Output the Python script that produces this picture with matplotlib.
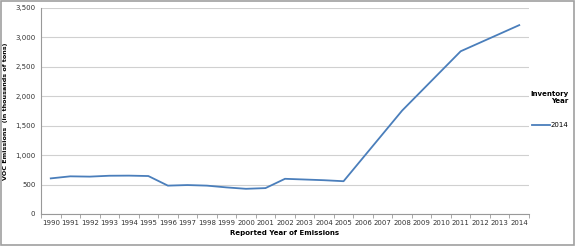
import numpy as np
import matplotlib.pyplot as plt

years = [str(y) for y in range(1990, 2015)]
voc_2014 = [605, 640, 635, 650, 652, 645, 482, 492, 482, 452, 428, 440,
            598, 586, 574, 557, 957, 1357, 1757, 2093, 2429, 2765, 2913, 3061, 3209]
yticks = [0, 500, 1000, 1500, 2000, 2500, 3000, 3500]

fig = plt.figure(figsize=(5.75, 2.46), dpi=100)
ax = fig.add_axes([41 / 575, 1 - 214 / 246, 488 / 575, 206 / 246])

x = np.arange(len(years))
ax.plot(x, voc_2014, color='#4a7ebb', lw=1.3, label='2014')

ax.set_xlim(-0.5, len(years) - 0.5)
ax.set_ylim(0, 3500)
ax.set_yticks(yticks)
ax.set_yticklabels([f'{v:,}' for v in yticks], fontsize=5, color='#333333')
ax.set_xticks(x)
ax.set_xticklabels(years, fontsize=5, color='#333333')
ax.set_xticks(np.arange(-0.5, len(years), 1), minor=True)
ax.tick_params(axis='x', which='major', length=0, pad=4)
ax.tick_params(axis='x', which='minor', length=3, color='#999999')
ax.tick_params(axis='y', length=0, pad=4)
ax.grid(axis='y', color='#d0d0d0', lw=0.8)
ax.set_axisbelow(True)
for s in ['top', 'right']:
    ax.spines[s].set_visible(False)
ax.spines['left'].set_color('#999999')
ax.spines['bottom'].set_color('#999999')

ax.set_xlabel('Reported Year of Emissions', fontsize=5, fontweight='bold', labelpad=3)
ax.set_ylabel('VOC Emissions  (in thousands of tons)', fontsize=4.6, fontweight='bold', labelpad=5)

leg = fig.legend(handles=ax.get_lines(), loc='upper left',
                 bbox_to_anchor=(530 / 575, 1 - 91 / 246), frameon=False,
                 fontsize=5, title='Inventory\nYear', title_fontsize=5,
                 handlelength=2.6, handletextpad=0.1, borderaxespad=0, borderpad=0)
leg.get_title().set_fontweight('bold')
leg.get_title().set_multialignment('right')
leg._legend_box.align = 'right'
leg._legend_box.sep = 13

fig.patches.append(plt.Rectangle((0.002, 0.004), 0.996, 0.992, transform=fig.transFigure,
                                 fill=False, edgecolor='#a0a0a0', lw=1.2))

fig.savefig('out.png', dpi=100)
